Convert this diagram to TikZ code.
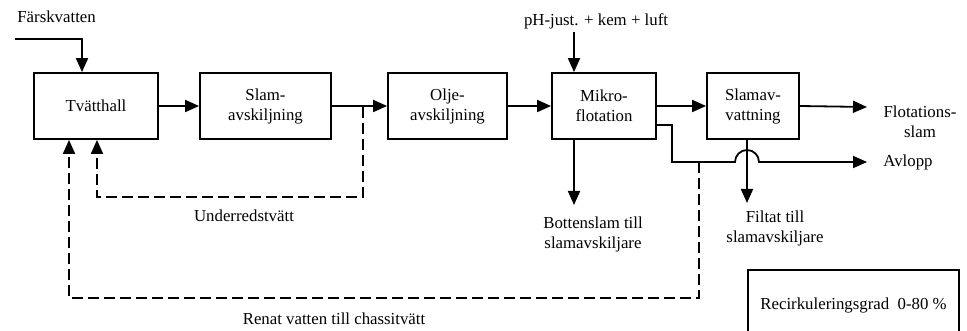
\documentclass[tikz,border=0pt]{standalone}
\usepackage{fontspec}
\setmainfont{Liberation Serif}
\usetikzlibrary{arrows.meta}
\begin{document}
\begin{tikzpicture}[x=0.5pt,y=-0.5pt,
  every node/.style={font=\fontsize{8.4}{10}\selectfont, inner sep=0pt, align=center},
  box/.style={draw, line width=0.9pt, minimum height=33pt},
  tip/.style={-{Triangle[length=7pt,width=6pt]}},
  flow/.style={line width=0.9pt, tip},
  recirc/.style={line width=0.9pt, dash pattern=on 5.5pt off 2.5pt, tip}]
\clip (0,0) rectangle (967,331);
\fill[white] (0,0) rectangle (967,331);

% process chain
\node[box, minimum width=62pt]   (tv) at (96,106)    {Tvätthall};
\node[box, minimum width=65.5pt] (sa) at (265.5,106) {Slam-\\avskiljning};
\node[box, minimum width=59.5pt] (oa) at (447.5,106) {Olje-\\avskiljning};
\node[box, minimum width=52pt]   (mk) at (604,106)   {Mikro-\\flotation};
\node[box, minimum width=46pt]   (sv) at (753,106)   {Slamav-\\vattning};
\node[draw, line width=0.9pt, minimum width=105.5pt, minimum height=35pt] (rg) at (853.5,305) {Recirkuleringsgrad\ \ 0-80 \%};

% labels
\node[anchor=west] (fv) at (17,17) {Färskvatten};
\node (ph) at (596,21) {pH-just. + kem + luft};
\node (ur) at (244,216) {Underredstvätt};
\node (rv) at (334,319) {Renat vatten till chassitvätt};
\node (bs) at (593,234) {Bottenslam till\\slamavskiljare};
\node (ft) at (775,228) {Filtat till\\slamavskiljare};
\node (fs) at (920,122) {Flotations-\\slam};
\node[anchor=west] (av) at (883,162) {Avlopp};

% free ends
\coordinate (fvs) at (15,39);
\coordinate (phs) at (574,32);
\coordinate (bse) at (574,205);
\coordinate (fte) at (747,203);
\coordinate (fse) at (867,107);
\coordinate (ave) at (867,162);
\coordinate (ubr) at (363,107);
\coordinate (rbr) at (699,162);

% main flow
\draw[flow] (fvs) -| ([xshift=-7pt]tv.north);
\draw[flow] (tv) -- (sa);
\draw[flow] (sa) -- (oa);
\draw[flow] (oa) -- (mk);
\draw[flow] (mk) -- (sv);
\draw[flow] (sv.east) -- (fse);
\draw[flow] (phs) -- (phs |- mk.north);
\draw[flow] (mk.south -| bse) -- (bse);
\draw[flow] ([xshift=-3pt]sv.south) -- (fte);

% outlet to sewer, hopping over the filtrate line
\draw[flow] ([yshift=-9.5pt]mk.east) -| (672,162) -- (735,162)
  arc[start angle=180, end angle=360, radius=12] -- (ave);

% recirculation loops
\draw[recirc] (ubr) -- (363,197) -| ([xshift=0.5pt]tv.south);
\draw[recirc] (rbr) -- (699,298) -| ([xshift=-13.5pt]tv.south);
\end{tikzpicture}
\end{document}
